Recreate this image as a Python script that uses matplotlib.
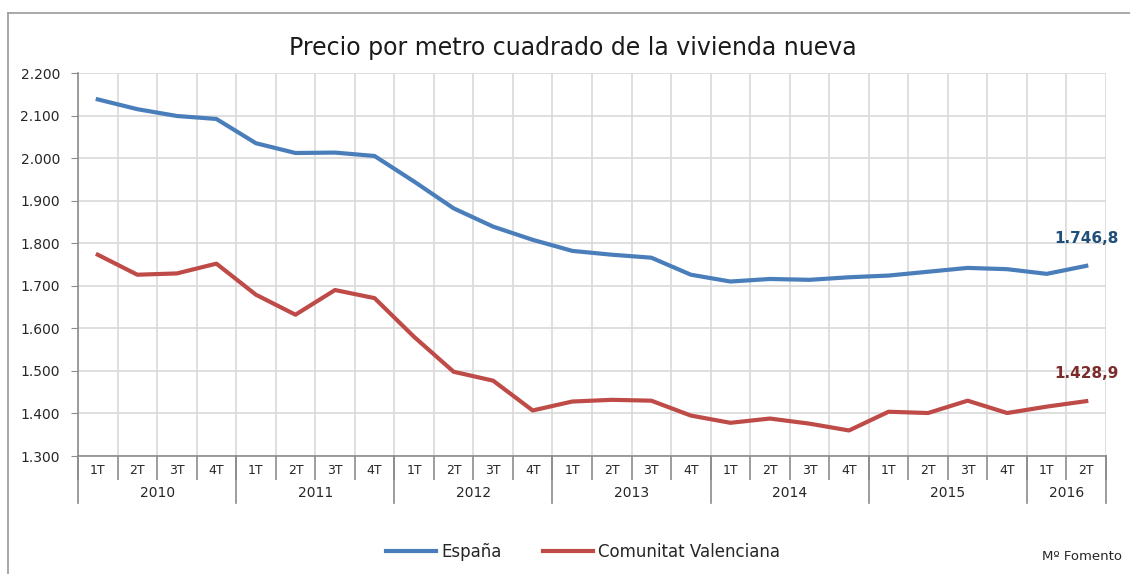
import numpy as np
import matplotlib
matplotlib.use('Agg')
import matplotlib.pyplot as plt
from matplotlib.ticker import FuncFormatter
import matplotlib.transforms as mtransforms

plt.rcParams['font.family'] = ['DejaVu Sans']

# datos
anios = ['2010', '2011', '2012', '2013', '2014', '2015', '2016']
trimestres = ['1T', '2T', '3T', '4T'] * 6 + ['1T', '2T']
espana = [2138, 2115, 2099, 2092, 2035, 2012, 2013, 2005,
          1945, 1882, 1839, 1808, 1782, 1773, 1766, 1726,
          1710, 1716, 1714, 1720, 1724, 1733, 1742, 1739,
          1728, 1746.8]
valenciana = [1773, 1726, 1729, 1752, 1679, 1632, 1690, 1671,
              1580, 1498, 1477, 1407, 1428, 1432, 1430, 1395,
              1378, 1388, 1376, 1360, 1404, 1401, 1430, 1401,
              1416, 1428.9]

azul = '#4A7EBB'
rojo = '#BE4B48'

fig = plt.figure(figsize=(11.3, 5.74), dpi=100)
W, H = 1130, 574

# marco del grafico
fig.add_artist(plt.Line2D([8 / W, 8 / W], [0, 1 - 13 / H], color='#9a9a9a', lw=1.2))
fig.add_artist(plt.Line2D([8 / W, 1], [1 - 13 / H, 1 - 13 / H], color='#9a9a9a', lw=1.2))

ax = fig.add_axes([78 / W, 1 - 456 / H, (1106 - 78) / W, (456 - 73) / H])

x = np.arange(len(espana))
ax.plot(x, espana, color=azul, lw=3, label='España', solid_joinstyle='round')
ax.plot(x, valenciana, color=rojo, lw=3, label='Comunitat Valenciana', solid_joinstyle='round')

ax.set_xlim(-0.5, len(espana) - 0.5)
ax.set_ylim(1300, 2200)
ax.set_yticks(np.arange(1300, 2201, 100))
ax.yaxis.set_major_formatter(FuncFormatter(lambda v, p: f'{int(v):,}'.replace(',', '.')))

# rejilla
ax.set_xticks(np.arange(-0.5, len(espana), 1), minor=True)
ax.grid(True, which='minor', axis='x', color='#d9d9d9', lw=1.2)
ax.grid(True, which='major', axis='y', color='#d9d9d9', lw=1.2)
ax.set_axisbelow(True)

for s in ['top', 'right']:
    ax.spines[s].set_visible(False)
for s in ['left', 'bottom']:
    ax.spines[s].set_color('#8c8c8c')
    ax.spines[s].set_linewidth(1.2)

ax.tick_params(axis='y', length=5, color='#8c8c8c', labelsize=10, labelcolor='#262626', pad=8)
ax.set_xticks(x)
ax.set_xticklabels(trimestres)
ax.tick_params(axis='x', which='major', length=0, labelsize=9, labelcolor='#262626', pad=6)
ax.tick_params(axis='x', which='minor', length=17, width=1.2, color='#8c8c8c', direction='out')

# separadores de anio y etiquetas de anio
trans = mtransforms.blended_transform_factory(ax.transData, ax.transAxes)
inicio = 0
for i, a in enumerate(anios):
    n = 4 if i < len(anios) - 1 else 2
    ax.plot([inicio - 0.5, inicio - 0.5], [0, -47 / 383], transform=trans,
            color='#8c8c8c', lw=1.2, clip_on=False)
    ax.text(inicio - 0.5 + n / 2, -37 / 383, a, transform=trans, ha='center',
            va='center', fontsize=10, color='#262626')
    inicio += n
ax.plot([inicio - 0.5, inicio - 0.5], [0, -47 / 383], transform=trans,
        color='#8c8c8c', lw=1.2, clip_on=False)

# etiquetas del ultimo dato
def fmt_es(v):
    return f'{v:,.1f}'.replace(',', 'X').replace('.', ',').replace('X', '.')

ax.annotate(fmt_es(espana[-1]), (x[-1], espana[-1]), xytext=(0, 20), textcoords='offset points',
            ha='center', va='center', fontsize=11, fontweight='bold', color='#1F4E79')
ax.annotate(fmt_es(valenciana[-1]), (x[-1], valenciana[-1]), xytext=(0, 20), textcoords='offset points',
            ha='center', va='center', fontsize=11, fontweight='bold', color='#7B2B29')

fig.text(573 / W, 1 - 48 / H, 'Precio por metro cuadrado de la vivienda nueva',
         ha='center', va='center', fontsize=17, color='#1a1a1a')

fig.legend(loc='center', bbox_to_anchor=(583 / W, 1 - 552 / H), ncol=2, frameon=False,
           fontsize=12, handlelength=3.0, handletextpad=0.3, columnspacing=2.5,
           labelcolor='#262626')

fig.text(1122 / W, 1 - 557 / H, 'Mº Fomento', ha='right', va='center', fontsize=9.5, color='#262626')

plt.savefig('out.png', dpi=100)
